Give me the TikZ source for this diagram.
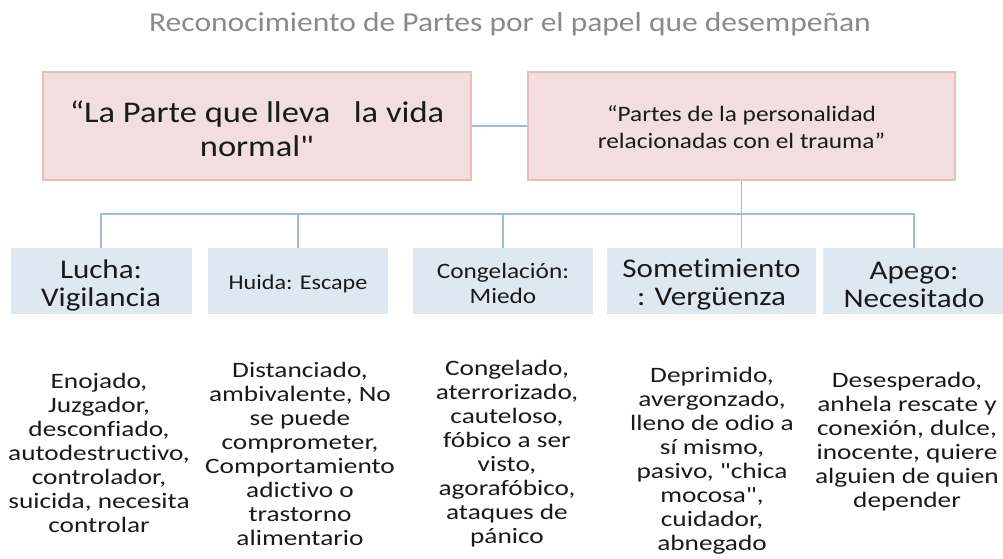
\documentclass[tikz,border=0pt]{standalone}
\usepackage{fontspec}
\setmainfont{Carlito}
\newfontfamily\hfont[FakeStretch=1.15,Ligatures=NoCommon]{Carlito}
\newfontfamily\dfont[FakeStretch=1.24,Ligatures=NoCommon]{Carlito}
\definecolor{pinkfill}{HTML}{F2DEDE}
\definecolor{pinkline}{HTML}{E8BDBD}
\definecolor{bluefill}{HTML}{DEE8F0}
\definecolor{linkc}{HTML}{9DBCDB}
\definecolor{titlec}{HTML}{8A8A8A}
\definecolor{txt}{HTML}{1A1A1A}
\tikzset{
  pinkbox/.style={draw=pinkline, fill=pinkfill, line width=1.3pt, minimum width=428pt, minimum height=108pt, inner sep=0pt},
  bluebox/.style={fill=bluefill, minimum height=66pt, inner sep=0pt},
  boxtext/.style={align=center, inner sep=0pt, text=txt},
  desc/.style={align=center, inner sep=0pt, text=txt, font=\dfont\fontsize{22}{24}\selectfont},
  link/.style={draw=linkc, line width=1.3pt},
  bigtxt/.style={boxtext, font=\hfont\fontsize{27}{28}\selectfont},
  smalltxt/.style={boxtext, font=\hfont\fontsize{22}{25}\selectfont}
}
\begin{document}
\begin{tikzpicture}[x=1pt,y=-1pt]
\useasboundingbox (0,0) rectangle (1003,558);
\node[text=titlec, font=\hfont\fontsize{27.4}{30}\selectfont, inner sep=0pt] (title) at (510,24) {Reconocimiento de Partes por el papel que desempeñan};
\node[pinkbox] (A) at (257,126) {};
\node[pinkbox, minimum width=427pt] (B) at (741.5,126) {};
\node[boxtext, font=\hfont\fontsize{30}{34}\selectfont] (Atext) at ([yshift=-3pt]A.center) {“La Parte que lleva\ \ \ la vida\\normal"};
\node[boxtext, font=\hfont\fontsize{22}{27}\selectfont] (Btext) at ([yshift=-1pt]B.center) {“Partes de la personalidad\\relacionadas con el trauma”};
\node[bluebox, minimum width=181pt] (lucha) at (101,281) {};
\node[bluebox, minimum width=180pt] (huida) at (298,281) {};
\node[bluebox, minimum width=180pt] (cong) at (503,281) {};
\node[bluebox, minimum width=209pt] (som) at (711.5,281) {};
\node[bluebox, minimum width=182pt] (apego) at (914,281) {};
\node[bigtxt] (luchat) at ([yshift=-4pt]lucha.center) {Lucha:\\Vigilancia};
\node[boxtext, font=\hfont\fontsize{21}{24}\selectfont] (huidat) at ([yshift=-3pt]huida.center) {Huida: Escape};
\node[smalltxt] (congt) at ([yshift=-2.5pt]cong.center) {Congelación:\\Miedo};
\node[bigtxt] (somt) at ([yshift=-4pt]som.center) {Sometimiento\\: Vergüenza};
\node[bigtxt] (apegot) at ([yshift=-4pt]apego.center) {Apego:\\Necesitado};
\coordinate (bus) at (0,214);
\draw[link] (A.east) -- (B.west);
\draw[link] (B.south) -- (B.south |- som.north);
\draw[link] (lucha.north) -- (lucha.north |- bus) -- (apego.north |- bus) -- (apego.north);
\draw[link] (huida.north) -- (huida.north |- bus);
\draw[link] (cong.north) -- (cong.north |- bus);
\node[desc] (d1) at (99,453) {Enojado,\\Juzgador,\\desconfiado,\\autodestructivo,\\controlador,\\suicida, necesita\\controlar};
\node[desc] (d2) at (300,454) {Distanciado,\\ambivalente, No\\se puede\\comprometer,\\Comportamiento\\adictivo o\\trastorno\\alimentario};
\node[desc] (d3) at (507,454) {Congelado,\\aterrorizado,\\cauteloso,\\fóbico a ser\\visto,\\agorafóbico,\\ataques de\\pánico};
\node[desc] (d4) at (712,461) {Deprimido,\\avergonzado,\\lleno de odio a\\sí mismo,\\pasivo, "chica\\mocosa",\\cuidador,\\abnegado};
\node[desc] (d5) at (907,442) {Desesperado,\\anhela rescate y\\conexión, dulce,\\inocente, quiere\\alguien de quien\\depender};
\end{tikzpicture}
\end{document}
